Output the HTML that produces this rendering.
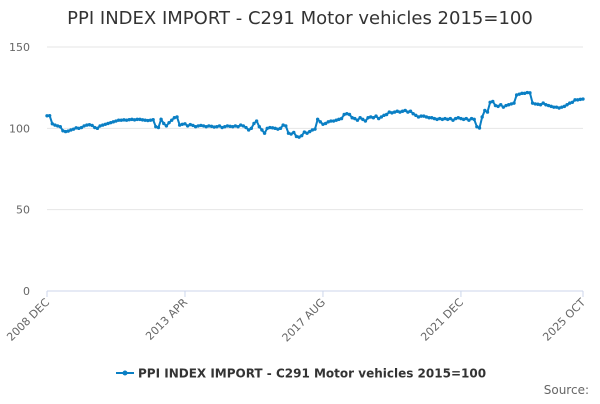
<!DOCTYPE html>
<html><head><meta charset="utf-8"><style>
body{margin:0;background:#fff;font-family:"DejaVu Sans",sans-serif}
</style></head><body>
<svg id="chart" width="600" height="400" xmlns="http://www.w3.org/2000/svg" font-family="DejaVu Sans, sans-serif">
<rect width="600" height="400" fill="#fff"/>
<text x="300" y="24" text-anchor="middle" font-size="18" fill="#333">PPI INDEX IMPORT - C291 Motor vehicles 2015=100</text>
<g id="grid"></g><g id="xaxis"></g><g id="series"></g>
<g>
<line x1="116" y1="373" x2="134" y2="373" stroke="#0a7fc4" stroke-width="2"/>
<circle cx="125" cy="373" r="2.5" fill="#0a7fc4"/>
<text x="138" y="377.5" font-size="12" font-weight="bold" fill="#333">PPI INDEX IMPORT - C291 Motor vehicles 2015=100</text>
</g>
<text x="589" y="394" text-anchor="end" font-size="12" fill="#666">Source:</text>
</svg>
<script>
const yTicks=[0,50,100,150];
const xTickIndex=[0,52,104,156,202];
const xTickLabels=["2008 DEC","2013 APR","2017 AUG","2021 DEC","2025 OCT"];
const values=[
107.7,107.8,102.8,102,101.5,101,98.5,98,98.3,99,99.5,100.3,
100,100.5,101.5,102,102.2,101.8,100.5,100,101.5,102,102.5,103,
103.5,104,104.5,105,105,105.2,105,105.3,105.5,105.2,105.5,105.5,
105.2,105,104.8,105,105.3,101,100.5,105.5,103,101.5,103.5,105,
106.5,107,102,102.5,102.8,101.5,102.3,101.8,101,101.5,101.8,101.5,
101,101.5,101.2,100.8,101,101.5,100.5,101,101.5,101.2,101,101.5,
101,102,101.5,100.5,99,100,103,104.5,101,99,97,100,
100.5,100.3,100,99.5,100,102,101.5,97,96.5,97.5,95,94.6,
95.5,97.7,97,98,99,99.5,105.5,104,102.5,103,104,104.5,
104.5,105,105.5,106,108.5,109,108.5,106.5,106,105,106.5,105.5,
104.5,106.5,107,106.5,107.5,106,107,108,108.5,110,109.5,110,
110.5,110,110.5,111,110,110.5,109,108,107,107.5,107.5,107,
106.5,106.5,106,105.5,106,105.5,106,105.5,106,105,106,106.5,
106,105.5,106,105,106,105.5,101,100.2,107,111,110,116,
116.5,114,113.5,114.5,113,114,114.5,115,115.5,120.5,121,121.5,
121.5,122,121.8,115.5,115,114.8,114.5,115.5,114.5,114,113.5,113,
113,112.5,113,113.5,114.5,115.5,116,117.5,117.5,117.8,118];
const NS="http://www.w3.org/2000/svg";
const X0=47,X1=583,Y0=291,Y1=47;
const xs=i=>X0+(X1-X0)*i/(values.length-1);
const ys=v=>Y0-(Y0-Y1)*v/150;
const grid=document.getElementById('grid');
yTicks.forEach(t=>{
  const l=document.createElementNS(NS,'line');
  
  
  l.setAttribute('x1',X0);l.setAttribute('x2',X1);
  l.setAttribute('y1',ys(t));l.setAttribute('y2',ys(t));
  l.setAttribute('stroke',t===0?'#ccd6eb':'#e6e6e6');
  grid.appendChild(l);
  const tx=document.createElementNS(NS,'text');
  
  
  tx.setAttribute('x',30);tx.setAttribute('y',ys(t)+4);
  tx.setAttribute('text-anchor','end');tx.setAttribute('font-size','11');tx.setAttribute('fill','#666');
  tx.textContent=t;grid.appendChild(tx);
});
const xa=document.getElementById('xaxis');
xTickIndex.forEach((ix,k)=>{
  const x=xs(ix);
  const l=document.createElementNS(NS,'line');
  
  
  l.setAttribute('x1',x);l.setAttribute('x2',x);l.setAttribute('y1',Y0);l.setAttribute('y2',Y0+6);
  l.setAttribute('stroke','#ccd6eb');xa.appendChild(l);
  const tx=document.createElementNS(NS,'text');
  
  
  tx.setAttribute('x',x+3);tx.setAttribute('y',Y0+12);
  tx.setAttribute('text-anchor','end');tx.setAttribute('font-size','11');tx.setAttribute('fill','#666');
  tx.setAttribute('transform','rotate(-45 '+(x+3)+' '+(Y0+12)+')');
  tx.textContent=xTickLabels[k];xa.appendChild(tx);
});
const s=document.getElementById('series');
const p=document.createElementNS(NS,'path');


p.setAttribute('d',values.map((v,i)=>(i?'L':'M')+xs(i).toFixed(2)+' '+ys(v).toFixed(2)).join(''));
p.setAttribute('fill','none');p.setAttribute('stroke','#0a7fc4');p.setAttribute('stroke-width','2');
s.appendChild(p);
values.forEach((v,i)=>{
  const c=document.createElementNS(NS,'circle');
  
  
  c.setAttribute('cx',xs(i));c.setAttribute('cy',ys(v));c.setAttribute('r',1.7);c.setAttribute('fill','#0a7fc4');
  s.appendChild(c);
});
</script>
</body></html>
